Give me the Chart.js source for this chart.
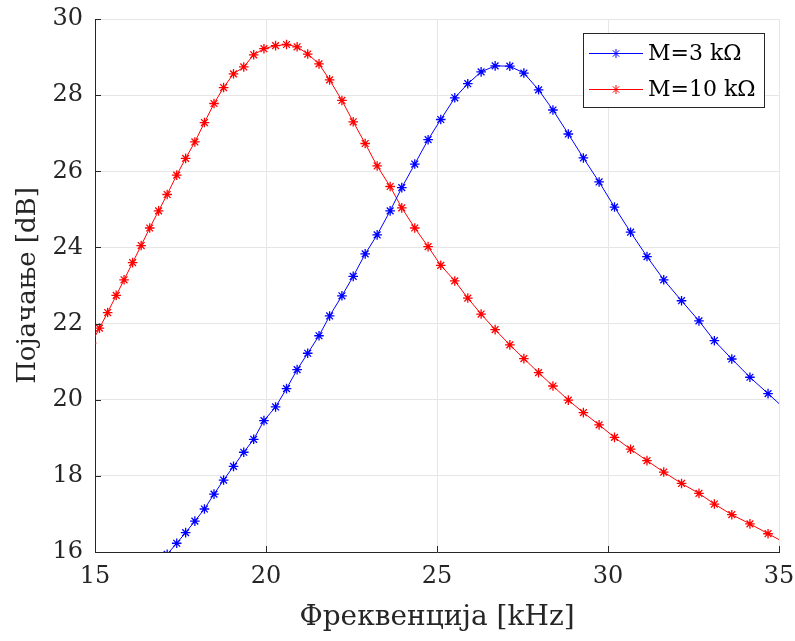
<!DOCTYPE html>
<html>
<head>
<meta charset="utf-8">
<script src="https://cdn.jsdelivr.net/npm/chart.js@4"></script>
<style>
    html, body { margin: 0; padding: 0; background: #ffffff; }
    #wrap { width: 795px; height: 641px; }
</style>
</head>
<body>
<div id="wrap"><canvas id="gainChart" width="795" height="641"></canvas></div>
<script>
/* ========================================
   Gain vs frequency, two values of M
   ======================================== */

// frequency points [kHz] (first and last lie just outside the axes)
const freq = [14.90, 15.13, 15.37, 15.62, 15.85, 16.10, 16.35, 16.60, 16.86, 17.11,
    17.39, 17.65, 17.92, 18.20, 18.48, 18.76, 19.05, 19.35, 19.64, 19.94,
    20.28, 20.60, 20.91, 21.22, 21.55, 21.86, 22.22, 22.55, 22.90, 23.25,
    23.63, 23.97, 24.35, 24.74, 25.11, 25.52, 25.90, 26.29, 26.70, 27.13,
    27.54, 27.97, 28.39, 28.84, 29.28, 29.74, 30.19, 30.66, 31.14, 31.63,
    32.15, 32.66, 33.11, 33.62, 34.15, 34.68, 35.22];

// gain [dB], M = 3 kOhm
const gainM3 = [null, null, null, null, null, null, null, null, 15.65, 15.94,
    16.23, 16.51, 16.81, 17.13, 17.52, 17.89, 18.25, 18.62, 18.96, 19.45,
    19.81, 20.29, 20.79, 21.22, 21.68, 22.20, 22.73, 23.24, 23.83, 24.33,
    24.96, 25.57, 26.19, 26.83, 27.36, 27.93, 28.30, 28.61, 28.77, 28.76,
    28.58, 28.14, 27.61, 26.98, 26.35, 25.72, 25.06, 24.40, 23.76, 23.15,
    22.60, 22.07, 21.55, 21.07, 20.59, 20.16, 19.72];

// gain [dB], M = 10 kOhm
const gainM10 = [21.49, 21.88, 22.29, 22.74, 23.15, 23.60, 24.05, 24.51, 24.96, 25.39,
    25.90, 26.34, 26.77, 27.28, 27.78, 28.20, 28.56, 28.74, 29.06, 29.22,
    29.30, 29.33, 29.27, 29.08, 28.82, 28.40, 27.86, 27.30, 26.73, 26.14,
    25.60, 25.04, 24.51, 24.02, 23.53, 23.12, 22.67, 22.25, 21.84, 21.44,
    21.08, 20.71, 20.36, 19.99, 19.66, 19.34, 19.01, 18.70, 18.40, 18.10,
    17.80, 17.54, 17.26, 16.98, 16.74, 16.48, 16.22];

const seriesLabels = ['M=3 k\u03A9', 'M=10 k\u03A9'];
const seriesColors = ['#0000ff', '#ff0000'];

const xTicks = [15, 20, 25, 30, 35];
const yTicks = [16, 18, 20, 22, 24, 26, 28, 30];

const FONT = 'DejaVu Serif';
const AXIS_COLOR = '#262626';
const GRID_COLOR = '#e6e6e6';

function toPoints(ys) {
    return freq.map((f, i) => ({ x: f, y: ys[i] }));
}

// inward tick marks on left and bottom axes
const innerTicks = {
    id: 'innerTicks',
    afterDraw(chart) {
        const { ctx, chartArea: a, scales } = chart;
        const len = 6;
        ctx.save();
        ctx.strokeStyle = AXIS_COLOR;
        ctx.lineWidth = 1;
        ctx.beginPath();
        xTicks.forEach(v => {
            const px = Math.round(scales.x.getPixelForValue(v)) + 0.5;
            ctx.moveTo(px, a.bottom);
            ctx.lineTo(px, a.bottom - len);
        });
        yTicks.forEach(v => {
            const py = Math.round(scales.y.getPixelForValue(v)) + 0.5;
            ctx.moveTo(a.left, py);
            ctx.lineTo(a.left + len, py);
        });
        ctx.stroke();
        ctx.restore();
    }
};

// boxed legend with line + star marker, like the original
const boxLegend = {
    id: 'boxLegend',
    afterDraw(chart) {
        const ctx = chart.ctx;
        const box = { x: 583.5, y: 33.5, w: 181, h: 74 };
        ctx.save();
        ctx.fillStyle = '#ffffff';
        ctx.fillRect(box.x, box.y, box.w, box.h);
        ctx.strokeStyle = AXIS_COLOR;
        ctx.lineWidth = 1;
        ctx.strokeRect(box.x, box.y, box.w, box.h);

        ctx.font = '22px "' + FONT + '"';
        ctx.textBaseline = 'middle';
        seriesLabels.forEach((label, i) => {
            const y = 53.5 + i * 36;
            ctx.strokeStyle = seriesColors[i];
            ctx.beginPath();
            ctx.moveTo(589, y);
            ctx.lineTo(643, y);
            ctx.stroke();
            Chart.helpers.drawPoint(ctx, { pointStyle: 'star', radius: 4.5, borderWidth: 1.2 }, 616, y);
            ctx.fillStyle = '#000000';
            ctx.fillText(label, 648, y + 1);
        });
        ctx.restore();
    }
};

const datasets = [gainM3, gainM10].map((ys, i) => ({
    label: seriesLabels[i],
    data: toPoints(ys),
    borderColor: seriesColors[i],
    backgroundColor: seriesColors[i],
    borderWidth: 1,
    pointStyle: 'star',
    pointRadius: 4.8,
    pointBorderWidth: 1.3,
    pointBorderColor: seriesColors[i],
    tension: 0,
    spanGaps: false
}));

new Chart(document.getElementById('gainChart'), {
    type: 'line',
    data: { datasets: datasets },
    options: {
        responsive: false,
        animation: false,
        devicePixelRatio: 1,
        layout: { padding: { left: 0, right: 16, top: 19, bottom: 0 } },
        plugins: {
            legend: { display: false },
            tooltip: { enabled: false }
        },
        scales: {
            x: {
                type: 'linear',
                min: 15,
                max: 35,
                afterBuildTicks: s => { s.ticks = xTicks.map(v => ({ value: v })); },
                afterFit: s => {
                    s.height = 89;
                    s.paddingLeft = 0;
                    s.paddingRight = 0;
                },
                grid: { color: GRID_COLOR, drawTicks: false },
                border: { color: AXIS_COLOR, width: 1 },
                ticks: {
                    padding: 10,
                    color: AXIS_COLOR,
                    font: { family: FONT, size: 24 },
                    maxRotation: 0
                },
                title: {
                    display: true,
                    text: 'Фреквенција [kHz]',
                    color: AXIS_COLOR,
                    font: { family: FONT, size: 28 },
                    padding: { top: 0, bottom: 6 }
                }
            },
            y: {
                type: 'linear',
                min: 16,
                max: 30,
                afterBuildTicks: s => { s.ticks = yTicks.map(v => ({ value: v })); },
                afterFit: s => {
                    s.width = 95;
                    s.paddingTop = 0;
                    s.paddingBottom = 0;
                },
                grid: { color: GRID_COLOR, drawTicks: false },
                border: { color: AXIS_COLOR, width: 1 },
                ticks: {
                    padding: 12,
                    color: AXIS_COLOR,
                    font: { family: FONT, size: 24 }
                },
                title: {
                    display: true,
                    text: 'Појачање [dB]',
                    color: AXIS_COLOR,
                    font: { family: FONT, size: 26 },
                    padding: { top: 13, bottom: 0 }
                }
            }
        }
    },
    plugins: [innerTicks, boxLegend]
});
</script>
</body>
</html>
